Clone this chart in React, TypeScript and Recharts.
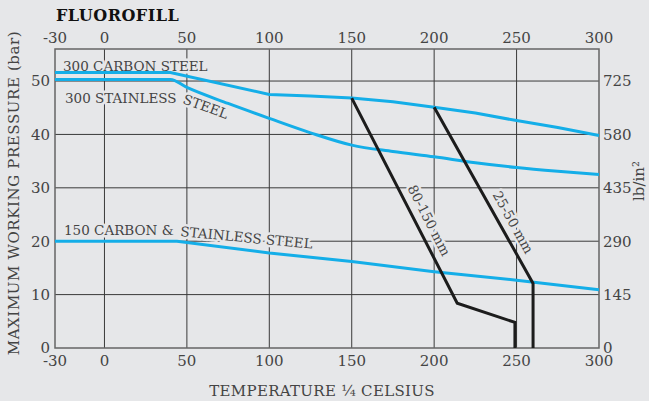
import * as Recharts from "recharts";

const { ComposedChart, Line, XAxis, YAxis } = Recharts;
const usePlotArea = (Recharts as any).usePlotArea as undefined | (() => any);

const BG = "#e6e7e9";
const BLUE = "#14aee8";
const INK = "#1c1c1c";
const FONT = "'DejaVu Serif', serif";

// axis ranges and ticks
const tempDomain = [-30, 300];
const barDomain = [0, 56];
const psiDomain = [0, 812];
const tempTicks = [-30, 0, 50, 100, 150, 200, 250, 300];
const barTicks = [0, 10, 20, 30, 40, 50];
const psiTicks = [0, 145, 290, 435, 580, 725];

// 300 carbon steel
const carbon300Temp = [-30, 40, 100, 125, 150, 175, 200, 225, 250, 275, 300];
const carbon300Bar = [51.6, 51.6, 47.5, 47.2, 46.8, 46.1, 45.1, 44.0, 42.6, 41.3, 39.8];

// 300 stainless steel
const stainless300Temp = [-30, 40, 50, 75, 100, 125, 150, 175, 200, 225, 250, 275, 300];
const stainless300Bar = [50.3, 50.3, 48.8, 45.8, 43.0, 40.3, 38.0, 36.8, 35.8, 34.7, 33.8, 33.1, 32.5];

// 150 carbon & stainless steel
const class150Temp = [-30, 44, 100, 150, 200, 250, 300];
const class150Bar = [20, 20, 17.8, 16.2, 14.3, 12.7, 10.9];

// valve size limits
const dn80Temp = [150, 214, 249, 249];
const dn80Bar = [46.8, 8.4, 4.8, 0];
const dn25Temp = [200, 260, 260];
const dn25Bar = [45.1, 12.1, 0];

// one table, each row carries one series' point
const rows = [
  ...class150Temp.map((t, i) => ({ t, class150: class150Bar[i] })),
  ...stainless300Temp.map((t, i) => ({ t, stainless300: stainless300Bar[i] })),
  ...carbon300Temp.map((t, i) => ({ t, carbon300: carbon300Bar[i] })),
  ...dn80Temp.map((t, i) => ({ t, dn80: dn80Bar[i] })),
  ...dn25Temp.map((t, i) => ({ t, dn25: dn25Bar[i] })),
];

const halo = {
  paintOrder: "stroke" as const,
  stroke: BG,
  strokeWidth: 5,
  strokeLinejoin: "round" as const,
};

const okNum = (v: any) => typeof v === "number" && Number.isFinite(v);

// grid, frame and all free text; grid placed from the plot area and the axis domains
function Overlay() {
  const area = usePlotArea ? usePlotArea() : null;
  const box =
    area && okNum(area.x) && okNum(area.y) && okNum(area.width) && okNum(area.height) && area.width > 0 && area.height > 0
      ? area
      : { x: 55, y: 49, width: 544, height: 299 };
  const sx = (t: number) => box.x + ((t - tempDomain[0]) / (tempDomain[1] - tempDomain[0])) * box.width;
  const sy = (p: number) => box.y + box.height - ((p - barDomain[0]) / (barDomain[1] - barDomain[0])) * box.height;
  const txt = { fontFamily: FONT, fontSize: 13.5, fill: "#444" };
  const axisTxt = { fontFamily: FONT, fontSize: 15, fill: "#444" };
  return (
    <g>
      <g>
        {tempTicks.slice(1, -1).map((t) => (
          <path key={`v${t}`} d={`M${sx(t)},${box.y}V${box.y + box.height}`} stroke="#3a3a3a" strokeWidth={1} fill="none" />
        ))}
        {barTicks.slice(1).map((p) => (
          <path key={`h${p}`} d={`M${box.x},${sy(p)}H${box.x + box.width}`} stroke="#3a3a3a" strokeWidth={1} fill="none" />
        ))}
        <path
          d={`M${box.x},${box.y}H${box.x + box.width}V${box.y + box.height}H${box.x}Z`}
          stroke="#666"
          strokeWidth={1.5}
          fill="none"
        />
      </g>
      <text x={56} y={21} style={{ fontFamily: FONT, fontSize: 16, fontWeight: 700, fill: "#111", letterSpacing: 0.5 }}>
        FLUOROFILL
      </text>
      <text x={63} y={71} style={{ ...txt, ...halo }}>300 CARBON STEEL</text>
      <text x={65} y={103} style={{ ...txt, ...halo }}>300 STAINLESS</text>
      <text x={0} y={0} transform="translate(182,103) rotate(20)" style={{ ...txt, ...halo }}>STEEL</text>
      <text x={64} y={235} style={{ ...txt, ...halo }}>150 CARBON &amp;</text>
      <text x={0} y={0} transform="translate(180,236) rotate(5.5)" style={{ ...txt, ...halo }}>STAINLESS STEEL</text>
      <text x={0} y={0} textAnchor="middle" dominantBaseline="middle" transform="translate(428,221) rotate(63)" style={{ ...txt, ...halo }}>
        80-150 mm
      </text>
      <text x={0} y={0} textAnchor="middle" dominantBaseline="middle" transform="translate(512,223) rotate(61)" style={{ ...txt, ...halo }}>
        25-50 mm
      </text>
      <text x={0} y={0} textAnchor="middle" dominantBaseline="middle" transform="translate(15,193) rotate(-90)" style={{ ...axisTxt, letterSpacing: 0.6 }}>
        MAXIMUM WORKING PRESSURE (bar)
      </text>
      <text x={0} y={0} textAnchor="middle" dominantBaseline="middle" transform="translate(640,181) rotate(-90)" style={axisTxt}>
        lb/in²
      </text>
      <text x={322} y={396} textAnchor="middle" style={{ ...axisTxt, letterSpacing: 0.3 }}>
        TEMPERATURE ¼ CELSIUS
      </text>
    </g>
  );
}

export default function App() {
  const tick = { fill: "#444", fontSize: 15, fontFamily: FONT };
  const series = [
    { key: "class150", color: BLUE, type: "linear" },
    { key: "stainless300", color: BLUE, type: "monotone" },
    { key: "carbon300", color: BLUE, type: "linear" },
    { key: "dn80", color: INK, type: "linear" },
    { key: "dn25", color: INK, type: "linear" },
  ] as const;
  return (
    <div style={{ position: "absolute", left: 0, top: 0, width: 649, height: 401, background: BG }}>
      <ComposedChart width={649} height={401} data={rows} margin={{ top: 0, right: 0, bottom: 0, left: 0 }}>
        <XAxis
          dataKey="t"
          type="number"
          domain={tempDomain}
          ticks={tempTicks}
          height={53}
          axisLine={false}
          tickLine={false}
          tickMargin={1}
          tick={tick}
          interval={0}
        />
        <XAxis
          xAxisId="top"
          dataKey="t"
          type="number"
          domain={tempDomain}
          ticks={tempTicks}
          orientation="top"
          height={49}
          axisLine={false}
          tickLine={false}
          tickMargin={0}
          tick={tick}
          interval={0}
        />
        <YAxis
          type="number"
          domain={barDomain}
          ticks={barTicks}
          width={55}
          axisLine={false}
          tickLine={false}
          tickMargin={-1}
          tick={tick}
          interval={0}
        />
        <YAxis
          yAxisId="right"
          orientation="right"
          dataKey="t"
          type="number"
          domain={psiDomain}
          allowDataOverflow
          ticks={psiTicks}
          width={50}
          axisLine={false}
          tickLine={false}
          tickMargin={-2}
          tick={tick}
          interval={0}
        />
        {series.map((s) => (
          <Line
            key={s.key}
            dataKey={s.key}
            type={s.type}
            stroke={s.color}
            strokeWidth={3}
            dot={false}
            activeDot={false}
            connectNulls
            isAnimationActive={false}
          />
        ))}
        <Overlay />
      </ComposedChart>
    </div>
  );
}
